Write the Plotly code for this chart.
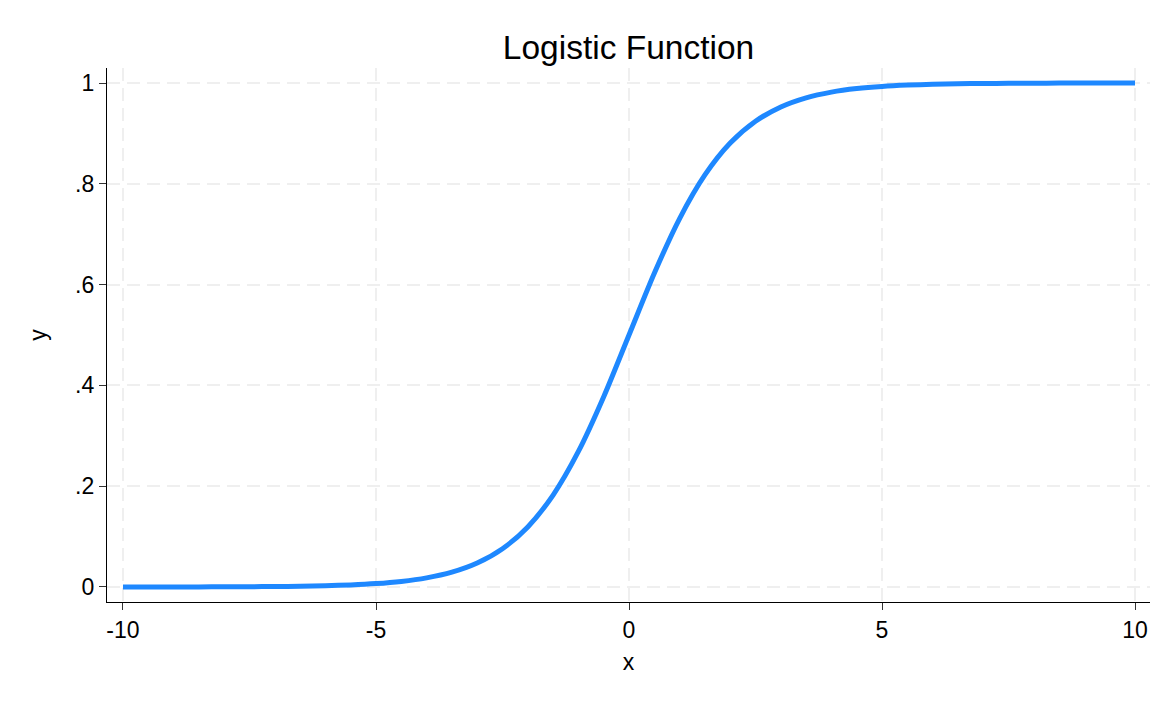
import plotly.graph_objects as go

x_values = [-10, -9.5, -9, -8.5, -8, -7.5, -7, -6.5, -6, -5.5, -5, -4.5, -4, -3.5, -3,
            -2.5, -2, -1.5, -1, -0.5, 0, 0.5, 1, 1.5, 2, 2.5, 3, 3.5, 4, 4.5, 5,
            5.5, 6, 6.5, 7, 7.5, 8, 8.5, 9, 9.5, 10]
y_values = [0.0000, 0.0001, 0.0001, 0.0002, 0.0003, 0.0006, 0.0009, 0.0015, 0.0025, 0.0041, 0.0067,
            0.0110, 0.0180, 0.0293, 0.0474, 0.0759, 0.1192, 0.1824, 0.2689, 0.3775, 0.5000,
            0.6225, 0.7311, 0.8176, 0.8808, 0.9241, 0.9526, 0.9707, 0.9820, 0.9890, 0.9933,
            0.9959, 0.9975, 0.9985, 0.9991, 0.9994, 0.9997, 0.9998, 0.9999, 0.9999, 1.0000]

x_ticks = [-10, -5, 0, 5, 10]
x_ticklabels = ["-10", "-5", "0", "5", "10"]
y_ticks = [0, 0.2, 0.4, 0.6, 0.8, 1]
y_ticklabels = ["0", ".2", ".4", ".6", ".8", "1"]

fig = go.Figure()
fig.add_trace(go.Scatter(
    x=x_values, y=y_values, mode="lines",
    line=dict(color="#1E88FF", width=5, shape="spline", smoothing=0.8),
    showlegend=False, hoverinfo="x+y"))

font = "Liberation Sans, Arial, sans-serif"
W, H = 1160, 690
fig.update_layout(
    width=W, height=H,
    paper_bgcolor="white", plot_bgcolor="white",
    margin=dict(l=99, r=18, t=60, b=96),
    font=dict(family=font, size=22, color="black"),
    title=dict(text="Logistic Function", x=0.5, xanchor="center",
               xref="paper", y=1 - 39 / H, yanchor="middle",
               font=dict(family=font, size=33.5, color="black")),
)
grid = dict(showgrid=True, gridcolor="#EFEFEF", griddash="13px,7px", gridwidth=1.6)
fig.update_xaxes(
    range=[-10.316, 10.296], tickvals=x_ticks, ticktext=x_ticklabels,
    showline=True, linecolor="black", linewidth=1.3,
    ticks="outside", ticklen=7, tickcolor="#333333", tickwidth=1.3,
    zeroline=False, tickfont=dict(size=23),
    title=dict(text="x", font=dict(size=23), standoff=12),
    **grid,
)
fig.update_yaxes(
    range=[-0.0298, 1.0298], tickvals=y_ticks, ticktext=y_ticklabels,
    showline=True, linecolor="black", linewidth=1.3,
    ticks="outside", ticklen=7, tickcolor="#333333", tickwidth=1.3,
    zeroline=False, tickfont=dict(size=23),
    title=dict(text="y", font=dict(size=23), standoff=22),
    **grid,
)

fig.write_html("out.html")
